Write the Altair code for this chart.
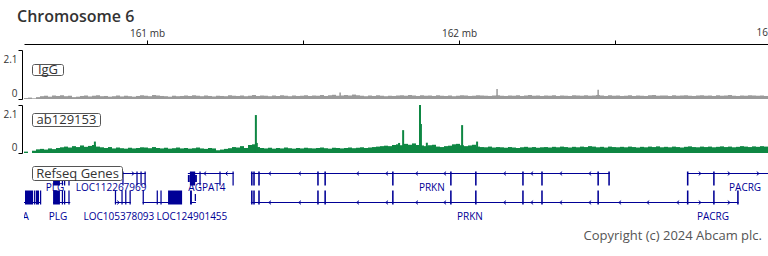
import altair as alt
import pandas as pd

# ---------------- data ----------------
title_text = "Chromosome 6"
copyright_text = "Copyright (c) 2024 Abcam plc."
track_names = ["IgG", "ab129153", "Refseq Genes"]

x_domain = [160.6058, 162.9904]          # Mb shown
tick_values = [161, 161.5, 162, 162.5]    # axis ticks (Mb)
edge_tick_pos = [163]
edge_tick_text = ["163 mb"]

bin_start = 160.6058
bin_width = 0.0128205                      # Mb per coverage bin

igg_values = [
    0.04, 0.06, 0.03, 0.08, 0.12, 0.14, 0.10, 0.15, 0.13, 0.16,
    0.12, 0.14, 0.08, 0.10, 0.13, 0.15, 0.11, 0.14, 0.16, 0.12,
    0.13, 0.10, 0.12, 0.15, 0.11, 0.14, 0.12, 0.10, 0.13, 0.16,
    0.14, 0.12, 0.17, 0.15, 0.13, 0.12, 0.10, 0.14, 0.12, 0.13,
    0.15, 0.13, 0.16, 0.14, 0.12, 0.15, 0.13, 0.11, 0.14, 0.13,
    0.12, 0.16, 0.14, 0.13, 0.15, 0.12, 0.14, 0.17, 0.13, 0.15,
    0.14, 0.12, 0.15, 0.13, 0.16, 0.14, 0.12, 0.15, 0.13, 0.14,
    0.16, 0.13, 0.15, 0.14, 0.17, 0.13, 0.16, 0.18, 0.14, 0.15,
    0.17, 0.15, 0.19, 0.16, 0.14, 0.12, 0.15, 0.13, 0.16, 0.14,
    0.12, 0.14, 0.13, 0.15, 0.16, 0.14, 0.17, 0.15, 0.13, 0.16,
    0.14, 0.15, 0.13, 0.16, 0.14, 0.13, 0.15, 0.12, 0.14, 0.16,
    0.15, 0.13, 0.14, 0.16, 0.15, 0.14, 0.13, 0.15, 0.16, 0.14,
    0.13, 0.15, 0.14, 0.16, 0.13, 0.15, 0.17, 0.14, 0.15, 0.13,
    0.15, 0.14, 0.16, 0.13, 0.15, 0.14, 0.13, 0.16, 0.15, 0.14,
    0.16, 0.14, 0.15, 0.17, 0.15, 0.13, 0.16, 0.14, 0.15, 0.13,
    0.14, 0.16, 0.13, 0.15, 0.14, 0.13, 0.16, 0.17, 0.14, 0.15,
    0.15, 0.13, 0.16, 0.14, 0.15, 0.16, 0.14, 0.13, 0.15, 0.16,
    0.14, 0.15, 0.13, 0.16, 0.14, 0.15, 0.17, 0.14, 0.13, 0.15,
    0.14, 0.16, 0.15, 0.14, 0.15, 0.13,
]
ab_values = [
    0.06, 0.00, 0.10, 0.16, 0.18, 0.15, 0.20, 0.17, 0.22, 0.25,
    0.28, 0.24, 0.30, 0.26, 0.33, 0.27, 0.31, 0.35, 0.28, 0.25,
    0.22, 0.26, 0.20, 0.24, 0.21, 0.19, 0.23, 0.20, 0.22, 0.25,
    0.24, 0.21, 0.26, 0.22, 0.20, 0.23, 0.19, 0.21, 0.24, 0.20,
    0.22, 0.19, 0.21, 0.24, 0.20, 0.18, 0.22, 0.20, 0.12, 0.15,
    0.18, 0.21, 0.26, 0.24, 0.30, 0.22, 0.35, 0.38, 0.26, 0.22,
    0.20, 0.23, 0.19, 0.22, 0.20, 0.24, 0.21, 0.19, 0.22, 0.20,
    0.23, 0.21, 0.20, 0.22, 0.24, 0.21, 0.19, 0.23, 0.22, 0.20,
    0.22, 0.24, 0.21, 0.23, 0.25, 0.22, 0.24, 0.26, 0.28, 0.30,
    0.32, 0.30, 0.35, 0.38, 0.34, 0.40, 0.36, 0.42, 0.35, 0.33,
    0.30, 0.34, 0.36, 0.28, 0.26, 0.30, 0.32, 0.38, 0.40, 0.34,
    0.30, 0.33, 0.36, 0.28, 0.26, 0.25, 0.28, 0.24, 0.26, 0.25,
    0.23, 0.26, 0.24, 0.22, 0.25, 0.27, 0.24, 0.26, 0.23, 0.25,
    0.26, 0.24, 0.27, 0.25, 0.28, 0.26, 0.24, 0.27, 0.25, 0.28,
    0.26, 0.30, 0.28, 0.25, 0.27, 0.24, 0.28, 0.26, 0.25, 0.27,
    0.25, 0.28, 0.26, 0.24, 0.27, 0.25, 0.28, 0.26, 0.29, 0.25,
    0.27, 0.25, 0.28, 0.26, 0.24, 0.27, 0.29, 0.26, 0.25, 0.28,
    0.26, 0.28, 0.25, 0.27, 0.29, 0.26, 0.28, 0.25, 0.27, 0.30,
    0.28, 0.26, 0.29, 0.27, 0.30, 0.28,
]

igg_peak_pos = [161.619, 162.122, 162.446]
igg_peak_val = [0.28, 0.43, 0.40]

ab_peak_pos = [160.833, 161.349, 161.352, 161.808, 161.821, 161.875, 161.878,
               161.897, 162.010, 162.058]
ab_peak_val = [0.50, 1.66, 0.44, 0.44, 1.00, 2.10, 1.27, 0.45, 1.22, 0.50]

# gene model (row 1 = upper, row 2 = lower)
gene_row   = [1, 1, 1, 1, 1, 2, 2, 2, 2, 2, 2, 2]
gene_start = [160.699, 160.900, 161.131, 161.333, 162.731,
              160.550, 160.699, 160.897, 160.986, 161.138, 161.333, 162.731]
gene_end   = [160.754, 160.996, 161.278, 162.483, 163.200,
              160.660, 160.754, 160.948, 161.112, 161.157, 162.731, 162.896]

exon_row = ([1] * 4 + [1] * 4 + [1] * 6 + [1] * 12 + [1] * 2
            + [2] * 4 + [2] * 4 + [2] * 4 + [2] * 4 + [2] * 2 + [2] * 11 + [2] * 3)
exon_center = (
    [160.710, 160.729, 160.736, 160.750]
    + [160.923, 160.968, 160.981, 160.994]
    + [161.134, 161.146, 161.157, 161.170, 161.234, 161.276]
    + [161.336, 161.343, 161.359, 161.548, 161.571, 161.788, 161.974, 162.054,
       162.205, 162.266, 162.446, 162.481]
    + [162.733, 162.817]
    + [160.622, 160.640, 160.649, 160.659]
    + [160.710, 160.729, 160.736, 160.750]
    + [160.899, 160.920, 160.932, 160.946]
    + [160.988, 161.033, 161.045, 161.090]
    + [161.141, 161.155]
    + [161.336, 161.343, 161.359, 161.548, 161.571, 161.788, 161.974, 162.054,
       162.205, 162.266, 162.446]
    + [162.733, 162.817, 162.894]
)
exon_span = (
    [0.022, 0.004, 0.004, 0.004]
    + [0.004, 0.004, 0.004, 0.004]
    + [0.006, 0.017, 0.006, 0.004, 0.004, 0.004]
    + [0.005] * 12
    + [0.005, 0.005]
    + [0.026, 0.004, 0.010, 0.004]
    + [0.022, 0.004, 0.004, 0.004]
    + [0.004, 0.004, 0.004, 0.004]
    + [0.004, 0.004, 0.004, 0.045]
    + [0.006, 0.004]
    + [0.005] * 11
    + [0.005, 0.005, 0.005]
)
exon_kind = (
    ["c"] * 4 + ["c"] * 4 + ["u", "c", "u", "c", "c", "c"] + ["c"] * 12 + ["c"] * 2
    + ["c"] * 4 + ["c"] * 4 + ["c"] * 4 + ["c"] * 4 + ["c", "u"] + ["c"] * 11 + ["c"] * 3
)

arrow_row = ([1] + [1, 1] + [1] * 10 + [1] * 3
             + [2] + [2] * 13 + [2] * 2)
arrow_pos = ([160.955] + [161.186, 161.255]
             + [161.394, 161.490, 161.676, 161.769, 161.865, 161.955, 162.147,
                162.234, 162.327, 162.420]
             + [162.772, 162.865, 162.958]
             + [160.908]
             + [161.394, 161.490, 161.676, 161.769, 161.865, 161.955, 162.147,
                162.234, 162.327, 162.420, 162.516, 162.606, 162.702]
             + [162.772, 162.865])
arrow_dir = ([">"] + ["<", "<"] + ["<"] * 10 + [">"] * 3
             + [">"] + ["<"] * 13 + [">"] * 2)

label_row  = [1, 1, 1, 1, 1, 2, 2, 2, 2, 2, 2]
label_pos  = [160.705, 160.885, 161.192, 161.913, 162.917,
              160.593, 160.715, 160.910, 161.144, 162.035, 162.814]
label_text = ["PLG", "LOC112267969", "AGPAT4", "PRKN", "PACRG",
              "LPA", "PLG", "LOC105378093", "LOC124901455", "PRKN", "PACRG"]

# ---------------- tables ----------------
igg_df = pd.DataFrame({"s": [bin_start + i * bin_width for i in range(len(igg_values))],
                       "v": igg_values})
igg_df["e"] = igg_df["s"] + bin_width
ab_df = pd.DataFrame({"s": [bin_start + i * bin_width for i in range(len(ab_values))],
                      "v": ab_values})
ab_df["e"] = ab_df["s"] + bin_width
igg_pk = pd.DataFrame({"p": igg_peak_pos, "v": igg_peak_val})
ab_pk = pd.DataFrame({"p": ab_peak_pos, "v": ab_peak_val})
genes = pd.DataFrame({"r": gene_row, "s": gene_start, "e": gene_end})
exons = pd.DataFrame({"r": exon_row, "c": exon_center, "w": exon_span, "k": exon_kind})
exons["s"] = exons["c"] - exons["w"] / 2
exons["e"] = exons["c"] + exons["w"] / 2
arrows = pd.DataFrame({"r": arrow_row, "p": arrow_pos, "d": arrow_dir})
labels = pd.DataFrame({"r": label_row, "p": label_pos, "t": label_text})
edge = pd.DataFrame({"p": edge_tick_pos, "t": edge_tick_text})

# ---------------- styles ----------------
FONT = "Open Sans"
GRAY = "#9a9a9a"
GREEN = "#0e8743"
NAVY = "#000096"
TXT = "#333333"

xscale = alt.Scale(domain=x_domain, nice=False, zero=False)
xaxis = alt.Axis(orient="top", values=tick_values,
                 labelExpr="datum.value % 1 == 0 ? datum.value + ' mb' : ''",
                 tickSize=4, tickColor="#000", domainColor="#000",
                 labelFontSize=10, labelFont=FONT, labelColor=TXT, labelPadding=2,
                 labelFlush=False, labelAngle=0, grid=False, title=None)


def X(field):
    return alt.X(f"{field}:Q", scale=xscale, axis=xaxis)


def track_axis():
    return alt.Axis(orient="left", values=[0, 2.1], format=".2~f", offset=2, tickSize=4,
                    tickColor="#000", domainColor="#000", labelFontSize=10,
                    labelFont=FONT, labelColor=TXT, labelPadding=1,
                    labelFlush=False, labelBaseline="middle",
                    labelOffset={"condition": {"test": "datum.value == 0", "value": -6},
                                 "value": 9},
                    grid=False, title=None)


igg_y = alt.Scale(domain=[0, 2.1], range=[55, 6], nice=False, zero=False, clamp=True)
ab_y = alt.Scale(domain=[0, 2.1], range=[109, 61], nice=False, zero=False, clamp=True)
gene_y = alt.Scale(domain=[1, 2], range=[129.5, 158.5], nice=False, zero=False)

igg_bars = alt.Chart(igg_df).mark_rect(color=GRAY, strokeWidth=0).encode(
    x=X("s"), x2="e", y=alt.Y("v:Q", scale=igg_y, axis=track_axis()), y2=alt.datum(0))
igg_peaks = alt.Chart(igg_pk).mark_rule(color=GRAY, strokeWidth=1.5).encode(
    x=X("p"), y=alt.Y("v:Q", scale=igg_y, axis=None), y2=alt.datum(0))
ab_bars = alt.Chart(ab_df).mark_rect(color=GREEN, strokeWidth=0).encode(
    x=X("s"), x2="e", y=alt.Y("v:Q", scale=ab_y, axis=track_axis()), y2=alt.datum(0))
ab_peaks = alt.Chart(ab_pk).mark_rule(color=GREEN, strokeWidth=2).encode(
    x=X("p"), y=alt.Y("v:Q", scale=ab_y, axis=None), y2=alt.datum(0))

gene_lines = alt.Chart(genes).mark_rule(color=NAVY, strokeWidth=1, clip=True).encode(
    x=X("s"), x2="e", y=alt.Y("r:Q", scale=gene_y, axis=None))
exon_bars = alt.Chart(exons).mark_bar(color=NAVY, clip=True).encode(
    x=X("s"), x2="e", y=alt.Y("r:Q", scale=gene_y, axis=None),
    size=alt.condition("datum.k == 'u'", alt.value(7), alt.value(14)))
arrow_pts = alt.Chart(arrows).mark_point(filled=False, color=NAVY, strokeWidth=1,
                                         size=14, opacity=1, clip=True).encode(
    x=X("p"), y=alt.Y("r:Q", scale=gene_y, axis=None),
    shape=alt.condition("datum.d == '<'", alt.value("M0.6,-1L-0.6,0L0.6,1"),
                        alt.value("M-0.6,-1L0.6,0L-0.6,1")))
gene_text = alt.Chart(labels).mark_text(color=NAVY, fontSize=10, font=FONT, dy=14.5,
                                        baseline="middle", clip=True).encode(
    x=X("p"), y=alt.Y("r:Q", scale=gene_y, axis=None), text="t:N")

edge_label = alt.Chart(edge).mark_text(color=TXT, fontSize=10, font=FONT, dx=3,
                                       baseline="bottom", align="center").encode(
    x=X("p"), y=alt.value(-6), text="t:N")


def name_box(name, x0, x1, y0, y1):
    d = pd.DataFrame({"t": [name]})
    box = alt.Chart(d).mark_rect(fill="white", stroke="#555", strokeWidth=1,
                                 cornerRadius=2).encode(
        x=alt.value(x0), x2=alt.value(x1), y=alt.value(y0), y2=alt.value(y1))
    txt = alt.Chart(d).mark_text(fontSize=13, font=FONT, color=TXT,
                                 baseline="middle", align="center").encode(
        x=alt.value((x0 + x1) / 2), y=alt.value((y0 + y1) / 2), text="t:N")
    return [box, txt]


title_mark = alt.Chart(pd.DataFrame({"t": [title_text]})).mark_text(
    fontSize=16, fontWeight=600, font=FONT, color=TXT, align="left",
    baseline="alphabetic").encode(x=alt.value(-7), y=alt.value(-22.5), text="t:N")
copy_mark = alt.Chart(pd.DataFrame({"t": [copyright_text]})).mark_text(
    fontSize=13, font=FONT, color="#555", align="right",
    baseline="alphabetic").encode(x=alt.value(738), y=alt.value(196), text="t:N")

layers = [igg_bars, igg_peaks, ab_bars, ab_peaks,
          gene_lines, exon_bars, arrow_pts]
layers += name_box(track_names[0], 8.5, 39.5, 20.5, 31.5)
layers += name_box(track_names[1], 8.5, 76.5, 69.5, 82.5)
layers += name_box(track_names[2], 8.5, 98.5, 122.5, 136.5)
layers += [gene_text, edge_label, title_mark, copy_mark]

chart = alt.layer(*layers).resolve_scale(y="independent").properties(
    width=744, height=212,
    autosize=alt.AutoSizeParams(type="none"),
    padding={"left": 24, "top": 44, "right": 0, "bottom": 0},
).configure_view(stroke=None)

chart.save("out.html", embed_options={"renderer": "svg", "actions": False})
